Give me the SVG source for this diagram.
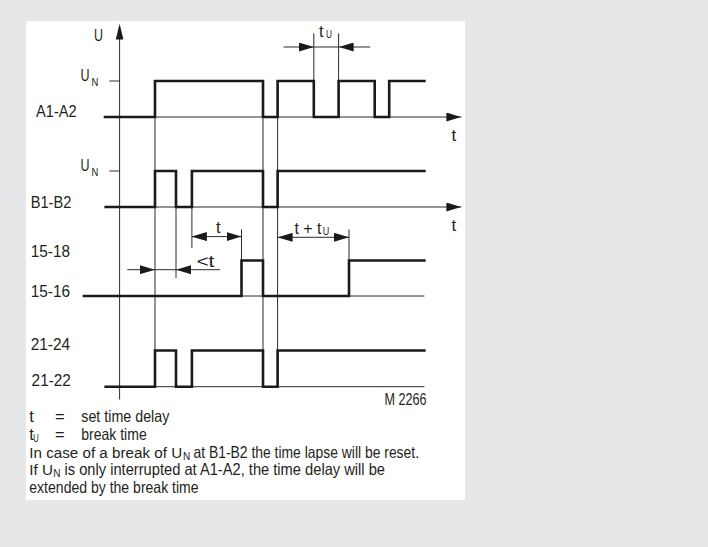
<svg xmlns="http://www.w3.org/2000/svg" width="708" height="547" viewBox="0 0 708 547">
<defs>
<style>
.txt{font-family:"Liberation Sans Narrow","Liberation Sans",Arial,sans-serif;font-size:16.5px;fill:#231f20}
.lbl{font-size:17px}
.sub{font-size:11.5px}
.sub2{font-size:10px}
.leg{font-size:15.2px}
.thin{fill:none;stroke:#2a2a2a;stroke-width:1}
.thick{fill:none;stroke:#1a1a1a;stroke-width:2.6;stroke-linejoin:miter;stroke-linecap:square}
.dim{fill:none;stroke:#2a2a2a;stroke-width:1;marker-end:url(#ah)}
.dim2{fill:none;stroke:#2a2a2a;stroke-width:1;marker-start:url(#ah);marker-end:url(#ah)}
</style>
<marker id="ah" markerUnits="userSpaceOnUse" markerWidth="15" markerHeight="9" refX="15" refY="4.5" orient="auto-start-reverse">
<path d="M0,0 L15,4.5 L0,9 z" fill="#1a1a1a"/>
</marker>
</defs>
<rect x="0" y="0" width="708" height="547" fill="#e6e7e9"/>
<rect x="26" y="21" width="439" height="479" fill="#ffffff"/>

<g id="connectors">
<line class="thin" x1="119.6" y1="399.5" x2="119.6" y2="38"/>
<path d="M119.6,23.7 L123.4,39.5 L115.8,39.5 z" fill="#1a1a1a"/>
<line class="thin" x1="109.3" y1="81" x2="119.6" y2="81"/>
<line class="thin" x1="109.3" y1="171" x2="119.6" y2="171"/>
<line class="dim" x1="105" y1="117" x2="461.4" y2="117"/>
<line class="dim" x1="105.7" y1="207" x2="461.4" y2="207"/>
<line class="thin" x1="84" y1="296" x2="424.4" y2="296"/>
<line class="thin" x1="105.7" y1="386.7" x2="424.4" y2="386.7"/>
<line class="thin" x1="155" y1="81" x2="155" y2="386.7"/>
<line class="thin" x1="263" y1="81" x2="263" y2="386.7"/>
<line class="thin" x1="277.6" y1="81" x2="277.6" y2="386.7"/>
<line class="thin" x1="176" y1="171" x2="176" y2="278"/>
<line class="thin" x1="191.9" y1="171" x2="191.9" y2="248"/>
<line class="thin" x1="241.5" y1="229.5" x2="241.5" y2="296"/>
<line class="thin" x1="349" y1="229.5" x2="349" y2="296"/>
<line class="thin" x1="313.8" y1="33.3" x2="313.8" y2="117"/>
<line class="thin" x1="338.6" y1="33.3" x2="338.6" y2="117"/>
<line class="thin" x1="313.8" y1="47" x2="338.6" y2="47"/>
<line class="dim" x1="283.5" y1="47" x2="313.8" y2="47"/>
<line class="dim" x1="370.2" y1="47" x2="338.6" y2="47"/>
<line class="dim2" x1="191.9" y1="236.6" x2="241.5" y2="236.6"/>
<line class="thin" x1="155" y1="269.7" x2="176" y2="269.7"/>
<line class="dim" x1="127.3" y1="269.7" x2="155" y2="269.7"/>
<line class="dim" x1="219.9" y1="269.7" x2="176" y2="269.7"/>
<line class="dim2" x1="277.6" y1="237.3" x2="349" y2="237.3"/>
</g>

<g id="signal-a1a2">
<path class="thick" d="M105,117 H155 V81 H263 V117 H277.6 V81 H313.8 V117 H338.6 V81 H374.7 V117 H389.2 V81 H424.4"/>
<text class="txt lbl" x="36.1" y="117" textLength="40.6" lengthAdjust="spacingAndGlyphs">A1-A2</text>
<text class="txt" x="80.4" y="81" textLength="9" lengthAdjust="spacingAndGlyphs">U</text>
<text class="txt sub" x="91.6" y="85.5" textLength="6.8" lengthAdjust="spacingAndGlyphs">N</text>
</g>

<g id="signal-b1b2">
<path class="thick" d="M105.7,207 H155 V171 H176 V207 H191.9 V171 H263 V207 H277.6 V171 H424.4"/>
<text class="txt lbl" x="30.7" y="207.6" textLength="40.6" lengthAdjust="spacingAndGlyphs">B1-B2</text>
<text class="txt" x="80.4" y="171" textLength="9" lengthAdjust="spacingAndGlyphs">U</text>
<text class="txt sub" x="91.6" y="175.5" textLength="6.8" lengthAdjust="spacingAndGlyphs">N</text>
</g>

<g id="signal-15">
<path class="thick" d="M84,296 H241.5 V260.5 H263 V296 H349 V260.5 H424.4"/>
<text class="txt lbl" x="30.7" y="257.2" textLength="39.3" lengthAdjust="spacingAndGlyphs">15-18</text>
<text class="txt lbl" x="30.7" y="296.6" textLength="39.3" lengthAdjust="spacingAndGlyphs">15-16</text>
</g>

<g id="signal-21">
<path class="thick" d="M105.7,386.7 H155 V350.5 H176 V386.7 H191.9 V350.5 H263 V386.7 H277.6 V350.5 H424.4"/>
<text class="txt lbl" x="30.7" y="349.6" textLength="39.3" lengthAdjust="spacingAndGlyphs">21-24</text>
<text class="txt lbl" x="31.6" y="385.6" textLength="39.3" lengthAdjust="spacingAndGlyphs">21-22</text>
</g>

<g id="labels">
<text class="txt lbl" x="94" y="41" textLength="9" lengthAdjust="spacingAndGlyphs">U</text>
<text class="txt lbl" x="451.5" y="141.3">t</text>
<text class="txt lbl" x="451.5" y="231">t</text>
<text class="txt" x="319" y="36.7">t</text>
<text class="txt sub" x="326" y="38.4" textLength="6" lengthAdjust="spacingAndGlyphs">U</text>
<text class="txt" x="216" y="233">t</text>
<text class="txt" x="196.4" y="267" textLength="18" lengthAdjust="spacingAndGlyphs">&lt;t</text>
<text class="txt" x="294.4" y="233.8" textLength="27" lengthAdjust="spacingAndGlyphs">t + t</text>
<text class="txt sub" x="322.8" y="235" textLength="6.5" lengthAdjust="spacingAndGlyphs">U</text>
<text class="txt" x="426.6" y="404.7" text-anchor="end" textLength="42" lengthAdjust="spacingAndGlyphs">M 2266</text>
</g>

<g id="legend">
<text class="txt" x="29.3" y="422.2">t</text>
<text class="txt" x="55" y="422.2">=</text>
<text class="txt" x="81.3" y="422.2" textLength="88" lengthAdjust="spacingAndGlyphs">set time delay</text>
<text class="txt" x="29.3" y="440.3">t</text>
<text class="txt sub" x="33.3" y="442" textLength="5.5" lengthAdjust="spacingAndGlyphs">U</text>
<text class="txt" x="55" y="440.3">=</text>
<text class="txt" x="81.3" y="440.3" textLength="65.4" lengthAdjust="spacingAndGlyphs">break time</text>
<text class="txt leg" x="29.3" y="457.8">In case of a break of U</text>
<text class="txt sub2" x="183" y="459.5">N</text>
<text class="txt" x="193.5" y="457.8" textLength="225.5" lengthAdjust="spacingAndGlyphs">at B1-B2 the time lapse will be reset.</text>
<text class="txt leg" x="29.3" y="475.2">If U</text>
<text class="txt sub2" x="53.2" y="476.9">N</text>
<text class="txt" x="64.5" y="475.2" textLength="320.5" lengthAdjust="spacingAndGlyphs">is only interrupted at A1-A2, the time delay will be</text>
<text class="txt" x="29.3" y="492.7" textLength="169.3" lengthAdjust="spacingAndGlyphs">extended by the break time</text>
</g>
</svg>
